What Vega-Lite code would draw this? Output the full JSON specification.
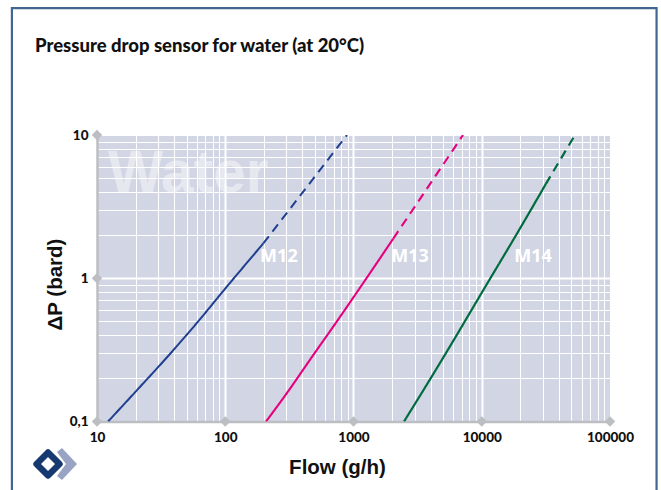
{
"$schema":"https://vega.github.io/schema/vega-lite/v6.json",
"width":513,"height":286.5,
"autosize":{"type":"none"},
"padding":{"left":97,"top":135,"right":51,"bottom":68.5},
"background":"white",
"view":{"fill":"#d2d6e4","stroke":null},
"datasets":{
"curves":[
{"sensor":"M12","part":"solid","flow":12.2,"dp":0.1},
{"sensor":"M12","part":"solid","flow":19.8,"dp":0.16},
{"sensor":"M12","part":"solid","flow":40.1,"dp":0.3206},
{"sensor":"M12","part":"solid","flow":60.5,"dp":0.491},
{"sensor":"M12","part":"solid","flow":100,"dp":0.847},
{"sensor":"M12","part":"solid","flow":198,"dp":1.75},
{"sensor":"M12","part":"dashed","flow":198,"dp":1.75},
{"sensor":"M12","part":"dashed","flow":889,"dp":10},
{"sensor":"M13","part":"solid","flow":208,"dp":0.1},
{"sensor":"M13","part":"solid","flow":301,"dp":0.157},
{"sensor":"M13","part":"solid","flow":501,"dp":0.303},
{"sensor":"M13","part":"solid","flow":718,"dp":0.479},
{"sensor":"M13","part":"solid","flow":1028,"dp":0.764},
{"sensor":"M13","part":"solid","flow":2042,"dp":1.89},
{"sensor":"M13","part":"dashed","flow":2042,"dp":1.89},
{"sensor":"M13","part":"dashed","flow":7145,"dp":10},
{"sensor":"M14","part":"solid","flow":2477,"dp":0.1},
{"sensor":"M14","part":"solid","flow":4055,"dp":0.2045},
{"sensor":"M14","part":"solid","flow":6180,"dp":0.3825},
{"sensor":"M14","part":"solid","flow":10070,"dp":0.801},
{"sensor":"M14","part":"solid","flow":19950,"dp":2.24},
{"sensor":"M14","part":"solid","flow":31550,"dp":4.54},
{"sensor":"M14","part":"dashed","flow":31550,"dp":4.54},
{"sensor":"M14","part":"dashed","flow":53300,"dp":10}
],
"labels":[
{"label":"M12","flow":262,"dp":1.41},
{"label":"M13","flow":2757,"dp":1.41},
{"label":"M14","flow":25130,"dp":1.41}
],
"ticks":[
{"flow":10,"dp":0.1},{"flow":100,"dp":0.1},{"flow":1000,"dp":0.1},{"flow":10000,"dp":0.1},{"flow":100000,"dp":0.1},{"flow":10,"dp":1},{"flow":10,"dp":10}
]
},
"layer":[
{"data":{"values":[{"x0":2.17,"x1":230700,"y0":76.9,"y1":0.01}]},
"mark":{"type":"rect","fill":null,"stroke":"#41678f","strokeWidth":2.2,"clip":false},
"encoding":{
"x":{"field":"x0","type":"quantitative","scale":{"type":"log","domain":[10,100000],"nice":false},
"axis":{"title":"Flow (g/h)","titleFont":"Liberation Sans","titleFontWeight":"bold","titleFontSize":20.5,"titleColor":"#111111","titleX":240,"titleY":51.5,"titleBaseline":"alphabetic",
"values":[10,20,30,40,50,60,70,80,90,100,200,300,400,500,600,700,800,900,1000,2000,3000,4000,5000,6000,7000,8000,9000,10000,20000,30000,40000,50000,60000,70000,80000,90000,100000],
"labelExpr":"indexof([10,100,1000,10000,100000],datum.value)>=0?datum.value+'':''",
"labelOverlap":false,"labelFlush":false,"labelFont":"Lato","labelFontWeight":900,"labelFontSize":13.5,"labelColor":"#111111","labelPadding":9,"labelAngle":0,
"ticks":false,"domainColor":"#bcbec2","domainWidth":2.5,
"grid":true,"gridColor":"#ffffff","gridWidth":{"condition":{"test":"indexof([100,1000,10000],datum.value)>=0","value":2},"value":1}}},
"x2":{"field":"x1"},
"y":{"field":"y0","type":"quantitative","scale":{"type":"log","domain":[0.1,10],"nice":false},
"axis":{"title":"ΔP (bard)","titleFont":"Liberation Sans","titleFontWeight":"bold","titleFontSize":20.5,"titleColor":"#111111","titleX":-36,"titleY":149,"titleAngle":-90,"titleBaseline":"alphabetic",
"values":[0.1,0.2,0.3,0.4,0.5,0.6,0.7,0.8,0.9,1,2,3,4,5,6,7,8,9,10],
"labelExpr":"datum.value==0.1?'0,1':datum.value==1?'1':datum.value==10?'10':''",
"labelOverlap":false,"labelFlush":false,"labelFont":"Lato","labelFontWeight":900,"labelFontSize":13.5,"labelColor":"#111111","labelPadding":9,
"ticks":false,"domainColor":"#bcbec2","domainWidth":2.5,
"grid":true,"gridColor":"#ffffff","gridWidth":{"condition":{"test":"datum.value==1","value":2},"value":1}}},
"y2":{"field":"y1"}
}},
{"data":{"values":[{"label":"Pressure drop sensor for water (at 20°C)","flow":3.28,"dp":37.8}]},
"mark":{"type":"text","align":"left","baseline":"alphabetic","font":"Lato","fontWeight":900,"fontSize":18.5,"color":"#111111","clip":false},
"encoding":{"x":{"field":"flow","type":"quantitative"},"y":{"field":"dp","type":"quantitative"},"text":{"field":"label"}}},
{"data":{"values":[{"label":"Water","flow":12.2,"dp":3.98}]},
"mark":{"type":"text","align":"left","baseline":"alphabetic","font":"Liberation Sans","fontWeight":"bold","fontSize":58.5,"color":"#ffffff","opacity":0.45},
"encoding":{"x":{"field":"flow","type":"quantitative"},"y":{"field":"dp","type":"quantitative"},"text":{"field":"label"}}},
{"data":{"name":"curves"},
"mark":{"type":"line","strokeCap":"butt","interpolate":"monotone","clip":true},
"encoding":{
"x":{"field":"flow","type":"quantitative"},
"y":{"field":"dp","type":"quantitative"},
"order":{"field":"flow"},
"detail":{"field":"part"},
"color":{"field":"sensor","type":"nominal","legend":null,"scale":{"domain":["M12","M13","M14"],"range":["#1f3f8f","#e6007e","#006b3f"]}},
"strokeWidth":{"field":"sensor","type":"nominal","legend":null,"scale":{"domain":["M12","M13","M14"],"range":[2,2.2,2.5]}},
"strokeDash":{"field":"part","type":"nominal","legend":null,"scale":{"domain":["solid","dashed"],"range":[[1,0],[9,6]]}}
}},
{"data":{"name":"labels"},
"mark":{"type":"text","font":"Open Sans","fontWeight":"bold","fontSize":18,"color":"#ffffff"},
"encoding":{"x":{"field":"flow","type":"quantitative"},"y":{"field":"dp","type":"quantitative"},"text":{"field":"label"}}},
{"data":{"name":"ticks"},
"mark":{"type":"point","shape":"diamond","filled":true,"size":110,"color":"#bcbec2","opacity":1,"clip":false},
"encoding":{"x":{"field":"flow","type":"quantitative"},"y":{"field":"dp","type":"quantitative"}}},
{"data":{"values":[{"flow":4.15,"dp":0.0505}]},
"mark":{"type":"point","shape":"diamond","filled":false,"size":529,"stroke":"#163a70","strokeWidth":6.4,"opacity":1,"strokeJoin":"round","clip":false},
"encoding":{"x":{"field":"flow","type":"quantitative"},"y":{"field":"dp","type":"quantitative"}}},
{"data":{"values":[{"flow":5.24,"dp":0.0505}]},
"mark":{"type":"point","shape":"M-0.25 -0.75L0.06 -1L1 0L0.06 1L-0.25 0.75L0.31 0Z","filled":true,"size":1024,"color":"#99a3c3","opacity":1,"clip":false},
"encoding":{"x":{"field":"flow","type":"quantitative"},"y":{"field":"dp","type":"quantitative"}}}
]
}
